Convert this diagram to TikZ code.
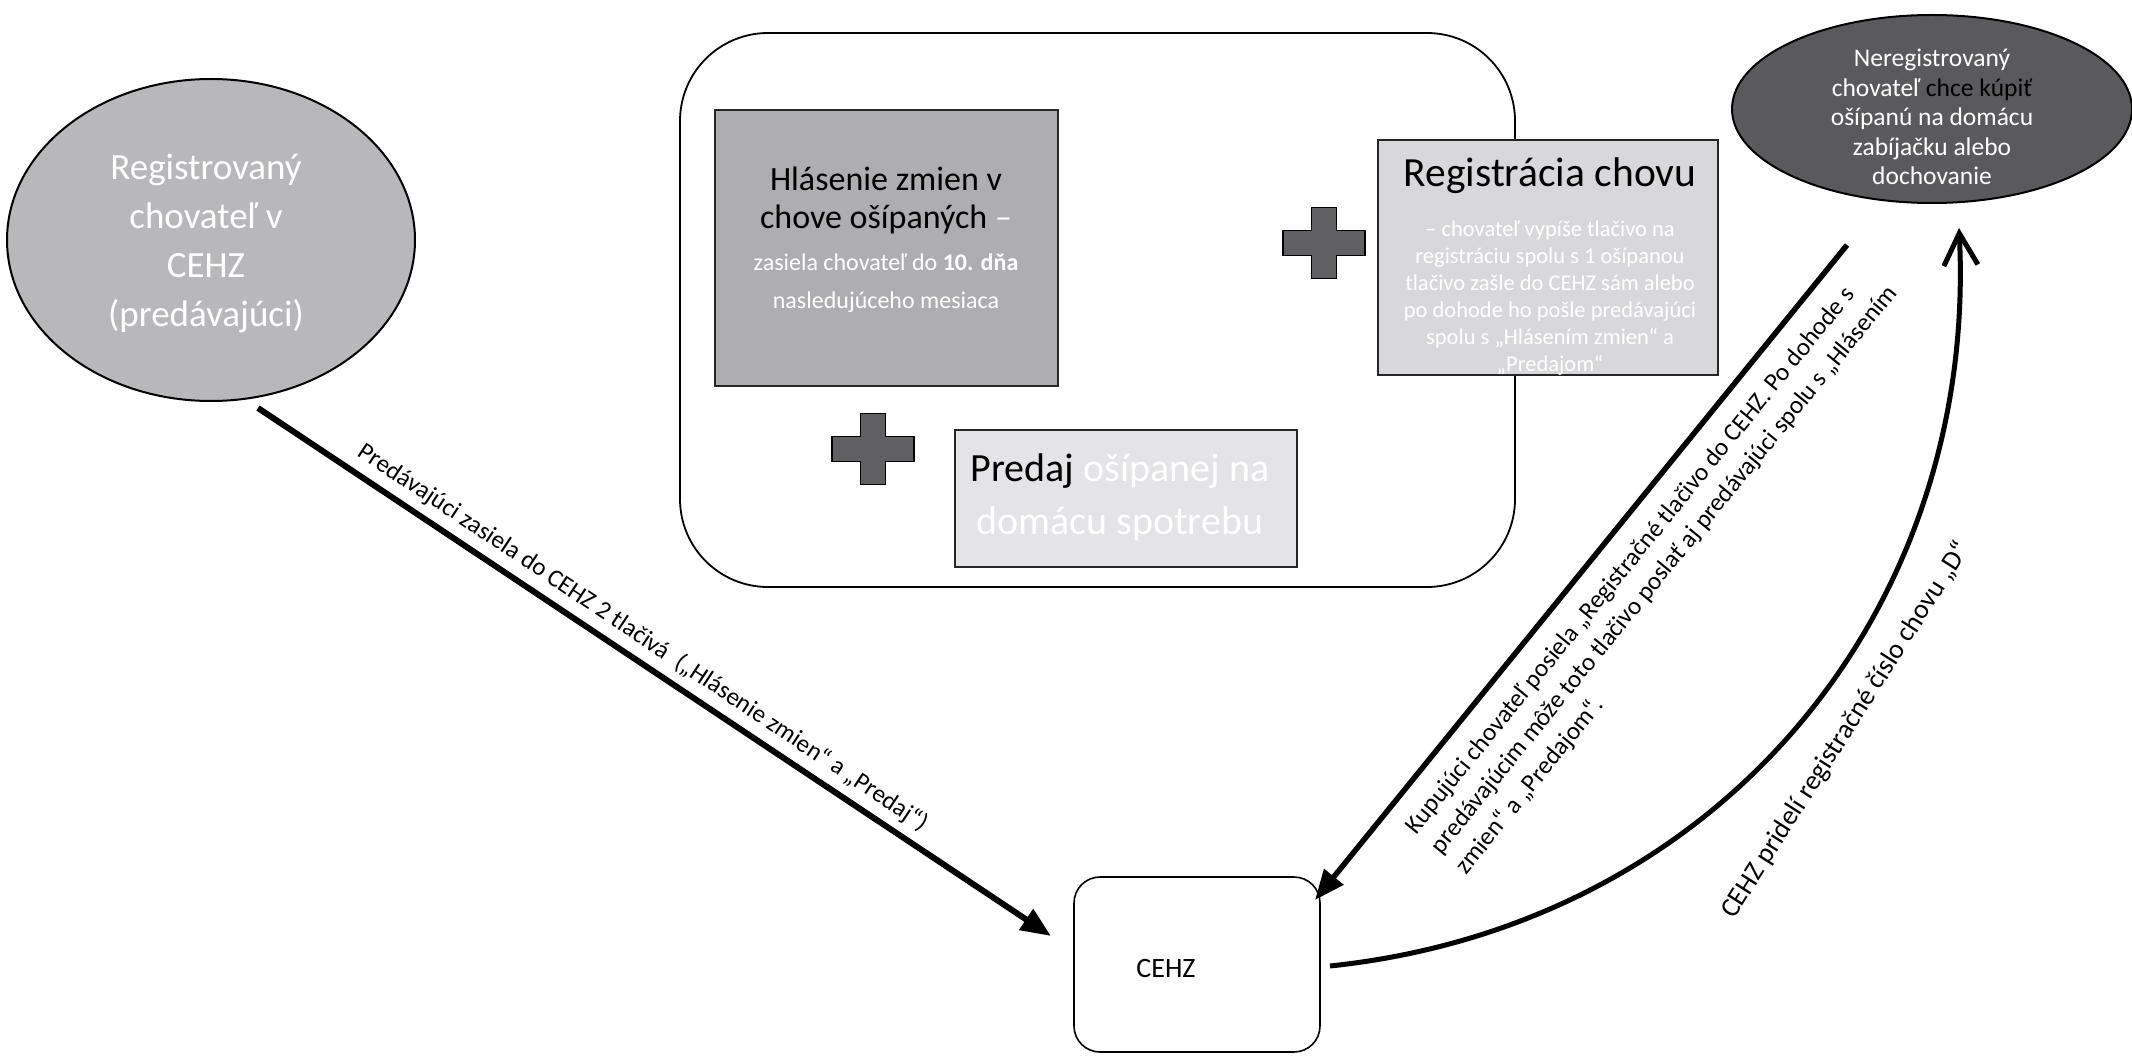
\documentclass[tikz,border=0pt]{standalone}
\usepackage{fontspec}
\setmainfont{Carlito}
\usetikzlibrary{shapes.geometric,arrows.meta}
\definecolor{ellL}{RGB}{184,184,186}
\definecolor{ellR}{RGB}{90,90,92}
\definecolor{boxH}{RGB}{174,174,176}
\definecolor{boxR}{RGB}{216,216,218}
\definecolor{boxP}{RGB}{228,228,230}
\definecolor{plusc}{RGB}{96,96,98}
\newcommand\myfs[2]{\fontsize{#1}{#2}\selectfont}
\begin{document}
\begin{tikzpicture}[x=1pt,y=-1pt,
  every node/.style={inner sep=0pt, outer sep=0pt},
  ell/.style={ellipse, draw=black, line width=2pt},
  sqbox/.style={draw=black!85, line width=2.5pt},
  thickarrow/.style={line width=6pt, -{Triangle[length=30pt,width=24pt]}},
  arcarrow/.style={line width=5pt, -{Straight Barb[length=32pt,width=34pt]}},
  lbl/.style={font=\myfs{25.2}{32}, align=left},
  pluspic/.pic={\filldraw[fill=plusc, draw=black, line width=1.5pt]
    (-41,-12.5) -- (-12.5,-12.5) -- (-12.5,-35.5) -- (12.5,-35.5) -- (12.5,-12.5) -- (41,-12.5)
    -- (41,12.5) -- (12.5,12.5) -- (12.5,35.5) -- (-12.5,35.5) -- (-12.5,12.5) -- (-41,12.5) -- cycle;}
]
\useasboundingbox (0,0) rectangle (2132,1059);
\fill[white] (0,0) rectangle (2132,1059);

% left ellipse
\node[ell, fill=ellL, minimum width=408pt, minimum height=322pt] (reg) at (211,240) {};
\node[text=white, align=center, font=\myfs{37}{49}] (regt) at (206,243)
  {Registrovaný\\chovateľ v\\CEHZ\\(predávajúci)};

% big rounded box
\node[draw=black, line width=1.8pt, fill=white, rounded corners=88pt,
  minimum width=835pt, minimum height=554pt] (outer) at (1097.5,310) {};

% Hlasenie box
\node[sqbox, fill=boxH, minimum width=343pt, minimum height=276pt] (hlas) at (886.5,248) {};
\node[align=center, font=\myfs{34}{38}] (hlast) at (886,200)
  {Hlásenie zmien v\\chove ošípaných \textcolor{white}{–}};
\node[align=center, text=white, font=\myfs{24}{38}] (hlass) at (886,283)
  {zasiela chovateľ do \textbf{10. dňa}\\nasledujúceho mesiaca};

% Registracia box
\node[sqbox, fill=boxR, minimum width=340pt, minimum height=235pt] (regch) at (1548,257.5) {};
\node[font=\myfs{41.5}{44}] (regcht) at (1550,176) {Registrácia chovu};
\node[align=center, text=white, font=\myfs{22.5}{27}] (regchs) at (1550,298)
  {– chovateľ vypíše tlačivo na\\registráciu spolu s 1 ošípanou\\tlačivo zašle do CEHZ sám alebo\\po dohode ho pošle predávajúci\\spolu s „Hlásením zmien“ a\\„Predajom“};

% Predaj box
\node[sqbox, fill=boxP, minimum width=342pt, minimum height=137pt] (pred) at (1126,498.5) {};
\node[align=center, font=\myfs{40}{53}] (predt) at (1120,497)
  {Predaj \textcolor{white}{ošípanej na}\\\textcolor{white}{domácu spotrebu}};

% plus signs
\pic (plusA) at (1324,243) {pluspic};
\pic (plusB) at (873,449) {pluspic};

% right ellipse
\node[ell, fill=ellR, minimum width=400pt, minimum height=188pt] (nereg) at (1932,109) {};
\node[align=center, text=white, font=\myfs{25.5}{29.5}] (neregt) at (1932,117)
  {Neregistrovaný\\chovateľ \textcolor{black}{chce kúpiť}\\ošípanú na domácu\\zabíjačku alebo\\dochovanie};

% CEHZ box
\node[draw=black, line width=1.6pt, fill=white, rounded corners=26pt,
  minimum width=246pt, minimum height=175pt] (cehz) at (1197,964.5) {};
\node[font=\myfs{28}{32}] (cehzt) at (1166,968) {CEHZ};

% connectors
\coordinate (l1) at (258,408);
\coordinate (l2) at (1051,936);
\draw[thickarrow] (l1) -- (l2)
  node[pos=0.47, sloped, above=11pt, font=\myfs{25}{28}] (ltxt)
  {Predávajúci zasiela do CEHZ 2 tlačivá\ \ („Hlásenie zmien“ a „Predaj“)};

\coordinate (r1) at (1847,245);
\coordinate (r2) at (1315,900);
\draw[line width=5.5pt, -{Triangle[length=30pt,width=24pt]}] (r1) -- (r2);
\node[lbl, rotate=50.9, anchor=north west] (rtxt) at (1403,824)
  {Kupujúci chovateľ posiela „Registračné tlačivo do CEHZ. Po dohode s\\predávajúcim môže toto tlačivo poslať aj predávajúci spolu s „Hlásením\\zmien“ a „Predajom“.};

\coordinate (a1) at (1330,966);
\coordinate (a2) at (1959,228);
\draw[arcarrow] (a1) .. controls (1720,925) and (1978,610) .. (a2);
\node[font=\myfs{27.5}{30}, rotate=57.5] (atxt) at (1846,730)
  {CEHZ pridelí registračné číslo chovu „D“};
\end{tikzpicture}
\end{document}
